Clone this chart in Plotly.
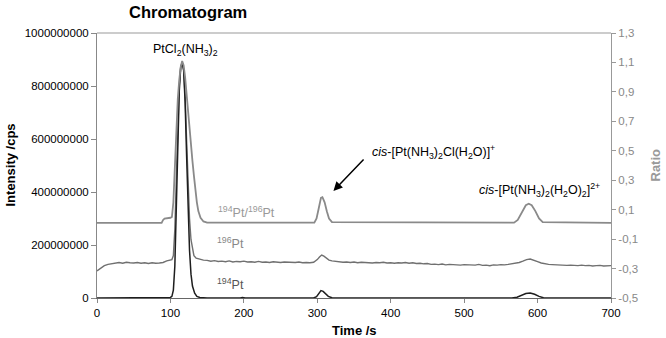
import plotly.graph_objects as go

# ---------------- data ----------------
# 194Pt intensity, millions of cps
time_194 = [0, 60, 96, 100, 102, 104, 106, 108, 110, 112, 114, 116, 118, 120, 122, 124, 126, 128, 130,
            133, 136, 140, 150, 195, 198, 202, 255, 258, 262, 295, 299, 302, 305, 308, 311, 315, 320,
            390, 393, 397, 565, 572, 578, 584, 590, 596, 602, 608, 700]
pt194 = [0, 0, 0, 2, 6, 30, 120, 330, 580, 780, 870, 890, 860, 740, 540, 330, 180, 90, 45,
         18, 6, 2, 0, 0, 2, 0, 0, 2, 0, 0, 5, 18, 28, 25, 16, 6, 1,
         0, 2, 0, 0, 3, 10, 17, 19, 14, 6, 1, 0]

# 196Pt intensity, millions of cps
time_196 = [0, 3, 6, 10, 15, 20, 25, 30, 35, 40, 45, 50, 55, 60, 65, 70, 75, 80, 85, 90, 95, 98,
            100, 102, 104, 106, 108, 110, 112, 114, 116, 118, 120, 122, 124, 126, 128, 130, 132, 135,
            140, 145, 150, 155, 160, 165, 170, 175, 180, 185, 190, 195, 200, 205, 210, 215, 220, 225,
            230, 235, 240, 245, 250, 255, 260, 265, 270, 275, 280, 285, 290, 295, 300, 303, 306, 309,
            312, 316, 320, 325, 330, 335, 340, 345, 350, 355, 360, 365, 370, 375, 380, 385, 390, 395,
            400, 405, 410, 415, 420, 425, 430, 435, 440, 445, 450, 455, 460, 465, 470, 475, 480, 485,
            490, 495, 500, 505, 510, 515, 520, 525, 530, 535, 540, 545, 550, 555, 560, 565, 570, 575,
            580, 585, 590, 595, 600, 605, 610, 615, 620, 625, 630, 635, 640, 645, 650, 655, 660, 665,
            670, 675, 680, 685, 690, 695, 700]
pt196 = [102, 108, 115, 122, 127, 130, 132, 134, 131, 135, 133, 132, 134, 131, 133, 130, 133, 131, 132, 134, 140, 142,
         141, 145, 160, 260, 450, 650, 800, 870, 885, 860, 760, 600, 430, 300, 220, 180, 160, 150,
         146, 143, 142, 139, 141, 138, 139, 137, 140, 136, 138, 137, 139, 136, 137, 135, 138, 135,
         136, 134, 137, 135, 134, 136, 135, 133, 134, 136, 133, 134, 133, 135, 145, 155, 162, 158,
         150, 143, 140, 138, 137, 135, 136, 134, 136, 133, 135, 134, 135, 132, 134, 133, 135, 132,
         133, 131, 133, 132, 134, 131, 133, 130, 131, 129, 130, 127, 128, 126, 128, 125, 127, 126,
         127, 124, 126, 125, 126, 124, 127, 123, 124, 122, 125, 124, 126, 125, 127, 129, 131, 134,
         139, 145, 147, 143, 137, 132, 129, 127, 126, 125, 124, 125, 123, 124, 123, 122, 124, 122,
         123, 121, 122, 123, 121, 122, 122]

# 194Pt/196Pt ratio (right axis)
time_ratio = [0, 88, 90, 92, 100, 102, 104, 106, 108, 110, 112, 114, 116, 118, 120, 122, 124, 126, 128,
              130, 132, 134, 136, 138, 141, 145, 150, 296, 299, 302, 305, 307, 310, 313, 316, 320,
              568, 573, 578, 584, 588, 592, 597, 602, 607, 700]
ratio = [0.01, 0.01, 0.03, 0.04, 0.045, 0.05, 0.15, 0.40, 0.65, 0.85, 0.98, 1.07, 1.11, 1.08, 1.00, 0.88, 0.74, 0.62, 0.52,
         0.43, 0.33, 0.23, 0.15, 0.09, 0.045, 0.02, 0.012, 0.012, 0.04, 0.11, 0.18, 0.185, 0.15, 0.09, 0.04, 0.015,
         0.012, 0.03, 0.08, 0.13, 0.14, 0.13, 0.09, 0.04, 0.015, 0.01]

intensity_ticks = [0, 200e6, 400e6, 600e6, 800e6, 1000e6]
intensity_ticklabels = ["0", "200000000", "400000000", "600000000", "800000000", "1000000000"]
ratio_ticks = [-0.5, -0.3, -0.1, 0.1, 0.3, 0.5, 0.7, 0.9, 1.1, 1.3]
ratio_ticklabels = ["-0,5", "-0,3", "-0,1", "0,1", "0,3", "0,5", "0,7", "0,9", "1,1", "1,3"]
time_ticks = [0, 100, 200, 300, 400, 500, 600, 700]

# ---------------- figure ----------------
FONT = "Liberation Sans, Arial, sans-serif"
fig = go.Figure()

fig.add_trace(go.Scatter(x=time_ratio, y=ratio, yaxis="y2", mode="lines",
                         line=dict(color="#8a8a8a", width=1.8), name="194Pt/196Pt"))
fig.add_trace(go.Scatter(x=time_196, y=[v * 1e6 for v in pt196], mode="lines",
                         line=dict(color="#707070", width=1.4), name="196Pt"))
fig.add_trace(go.Scatter(x=time_194, y=[v * 1e6 for v in pt194], mode="lines",
                         line=dict(color="#1e1e1e", width=1.5), name="194Pt"))

fig.update_layout(
    width=666, height=338, autosize=False,
    margin=dict(l=97, r=55, t=33, b=40),
    paper_bgcolor="white", plot_bgcolor="white",
    showlegend=False,
    font=dict(family=FONT, size=11.5, color="#000"),
    xaxis=dict(range=[0, 700], tickvals=time_ticks, ticks="outside", ticklen=4,
               tickcolor="#888", showline=True, linecolor="#666", linewidth=1,
               showgrid=False, zeroline=False, tickfont=dict(size=11.5, color="#000")),
    yaxis=dict(range=[0, 1000e6], tickvals=intensity_ticks, ticktext=intensity_ticklabels,
               ticks="outside", ticklen=5, tickcolor="#888", showline=True, linecolor="#888",
               linewidth=1, showgrid=False, zeroline=False, tickfont=dict(size=11.5, color="#000")),
    yaxis2=dict(range=[-0.5, 1.3], overlaying="y", side="right", tickvals=ratio_ticks,
                ticktext=ratio_ticklabels, ticks="outside", ticklen=4, tickcolor="#999",
                showline=True, linecolor="#999", linewidth=1, showgrid=False, zeroline=False,
                tickfont=dict(size=11.5, color="#888")),
    shapes=[dict(type="line", xref="paper", yref="paper", x0=0, x1=1, y0=1, y1=1,
                 line=dict(color="#999", width=1))],
)

ann = []
# title and axis titles
ann.append(dict(text="<b>Chromatogram</b>", xref="paper", yref="paper", x=0, y=1,
                xshift=91, yshift=21, xanchor="center", yanchor="middle", showarrow=False,
                font=dict(size=16.5, color="#000")))
ann.append(dict(text="<b>Intensity /cps</b>", xref="paper", yref="paper", x=0, y=0.5,
                xshift=-87, xanchor="center", yanchor="middle", textangle=-90, showarrow=False,
                font=dict(size=13, color="#000")))
ann.append(dict(text="<b>Ratio</b>", xref="paper", yref="paper", x=1, y=0.5,
                xshift=44, xanchor="center", yanchor="middle", textangle=-90, showarrow=False,
                font=dict(size=13, color="#999")))
ann.append(dict(text="<b>Time /s</b>", xref="paper", yref="paper", x=0.5, y=0,
                yshift=-32, xanchor="center", yanchor="middle", showarrow=False,
                font=dict(size=13, color="#000")))
# peak / trace labels
ann.append(dict(text="PtCl<sub>2</sub>(NH<sub>3</sub>)<sub>2</sub>", x=121, y=935e6,
                showarrow=False, font=dict(size=12.5, color="#000")))
ann.append(dict(text="<sup>194</sup>Pt/<sup>196</sup>Pt", x=204, y=325e6,
                showarrow=False, font=dict(size=12.5, color="#999")))
ann.append(dict(text="<sup>196</sup>Pt", x=182, y=207e6,
                showarrow=False, font=dict(size=12.5, color="#888")))
ann.append(dict(text="<sup>194</sup>Pt", x=182, y=53e6,
                showarrow=False, font=dict(size=12.5, color="#555")))
ann.append(dict(text="<i>cis</i>-[Pt(NH<sub>3</sub>)<sub>2</sub>Cl(H<sub>2</sub>O)]<sup>+</sup>",
                x=458, y=551e6, showarrow=False, font=dict(size=12.5, color="#000")))
ann.append(dict(text="<i>cis</i>-[Pt(NH<sub>3</sub>)<sub>2</sub>(H<sub>2</sub>O)<sub>2</sub>]<sup>2+</sup>",
                x=602, y=408e6, showarrow=False, font=dict(size=12.5, color="#000")))
# arrow
ann.append(dict(text="", x=322, y=404e6, ax=365, ay=528e6, axref="x", ayref="y",
                showarrow=True, arrowhead=2, arrowsize=1.2, arrowwidth=1.5, arrowcolor="#000"))
fig.update_layout(annotations=ann)

fig.write_html("out.html", config={"displayModeBar": False},
               post_script="document.body.style.margin='0';document.body.style.overflow='hidden';")
